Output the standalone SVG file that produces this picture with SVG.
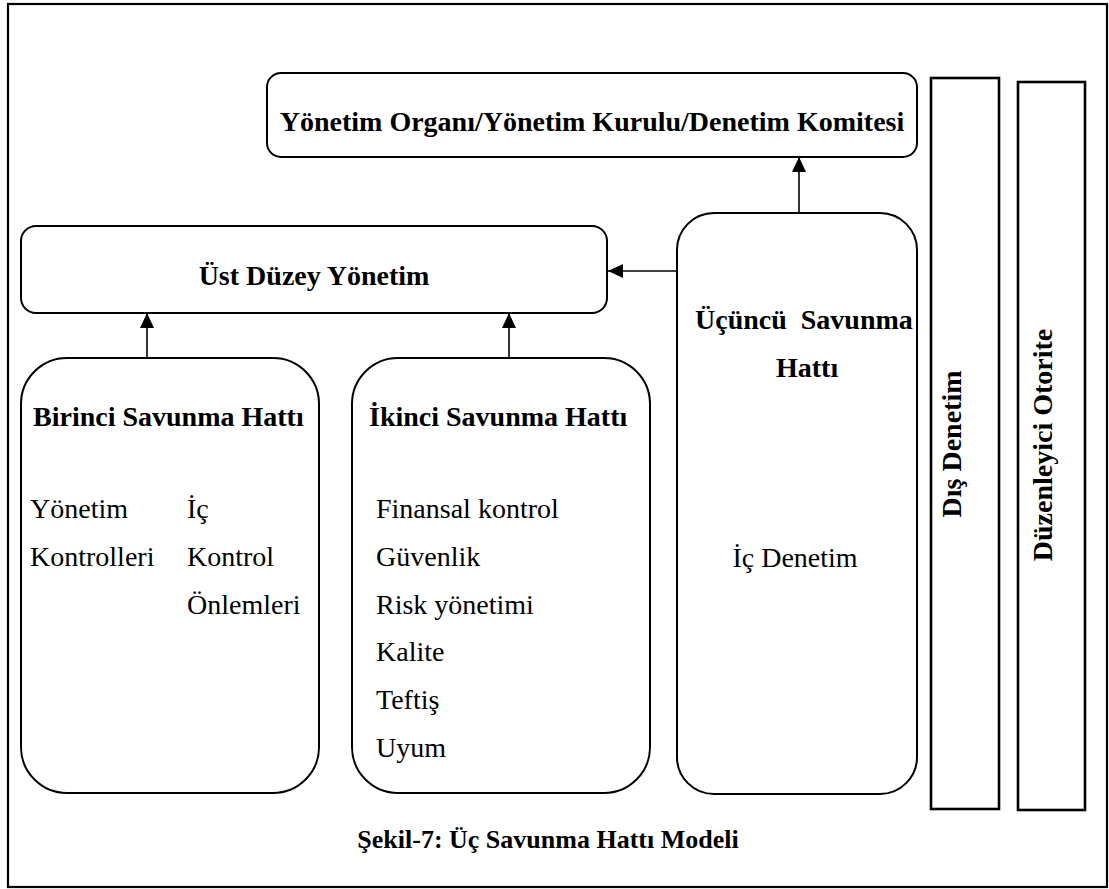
<svg xmlns="http://www.w3.org/2000/svg" width="1109" height="889" viewBox="0 0 1109 889">
  <style>
    .box { fill: #fff; stroke: #000; stroke-width: 2; }
    .bar { fill: #fff; stroke: #000; stroke-width: 2.6; }
    .frame { fill: #fff; stroke: #000; stroke-width: 2.2; }
    .link { stroke: #000; stroke-width: 1.6; fill: none; marker-end: url(#head); }
    text { font-family: "Liberation Serif", "Times New Roman", serif; font-size: 28px; fill: #000; }
    .b { font-weight: bold; }
    .mid { text-anchor: middle; }
  </style>
  <defs>
    <marker id="head" markerUnits="userSpaceOnUse" markerWidth="16" markerHeight="16" viewBox="0 0 16 16" refX="15" refY="8" orient="auto">
      <path d="M0,1 L15,8 L0,15 Z" fill="#000"/>
    </marker>
  </defs>

  <!-- outer frame -->
  <rect class="frame" x="8" y="4" width="1099" height="883"/>

  <g id="board">
    <rect class="box" x="267" y="73" width="650" height="84" rx="14" ry="14"/>
    <text class="b mid" x="592" y="131">Yönetim Organı/Yönetim Kurulu/Denetim Komitesi</text>
  </g>

  <g id="senior-management">
    <rect class="box" x="21" y="226" width="586" height="87" rx="15" ry="15"/>
    <text class="b mid" x="314" y="285">Üst Düzey Yönetim</text>
  </g>

  <g id="first-line">
    <rect class="box" x="21" y="358" width="298" height="435" rx="46" ry="46"/>
    <text class="b" x="33" y="426">Birinci Savunma Hattı</text>
    <text x="30" y="518">Yönetim</text>
    <text x="30" y="566">Kontrolleri</text>
    <text x="187" y="518">İç</text>
    <text x="187" y="566">Kontrol</text>
    <text x="187" y="614">Önlemleri</text>
  </g>

  <g id="second-line">
    <rect class="box" x="352" y="358" width="298" height="435" rx="46" ry="46"/>
    <text class="b" x="369" y="426">İkinci Savunma Hattı</text>
    <text x="376" y="518">Finansal kontrol</text>
    <text x="376" y="566">Güvenlik</text>
    <text x="376" y="614">Risk yönetimi</text>
    <text x="376" y="661">Kalite</text>
    <text x="376" y="709">Teftiş</text>
    <text x="376" y="757">Uyum</text>
  </g>

  <g id="third-line">
    <rect class="box" x="677" y="213" width="240" height="581" rx="37" ry="37"/>
    <text class="b" x="695" y="329" xml:space="preserve">Üçüncü  Savunma</text>
    <text class="b" x="776" y="377">Hattı</text>
    <text class="mid" x="795" y="567">İç Denetim</text>
  </g>

  <g id="external-audit">
    <rect class="bar" x="931" y="78" width="68" height="731"/>
    <text class="b mid" transform="translate(961 444) rotate(-90)">Dış Denetim</text>
  </g>

  <g id="regulator">
    <rect class="bar" x="1018" y="82" width="67" height="728"/>
    <text class="b mid" transform="translate(1052 445) rotate(-90)">Düzenleyici Otorite</text>
  </g>

  <g id="connectors">
    <line class="link" x1="147" y1="358" x2="147" y2="313"/>
    <line class="link" x1="509" y1="358" x2="509" y2="313"/>
    <line class="link" x1="677" y1="271" x2="608" y2="271"/>
    <line class="link" x1="799" y1="213" x2="799" y2="157"/>
  </g>

  <text class="b mid" x="548" y="848" style="font-size:26px">Şekil-7: Üç Savunma Hattı Modeli</text>
</svg>
